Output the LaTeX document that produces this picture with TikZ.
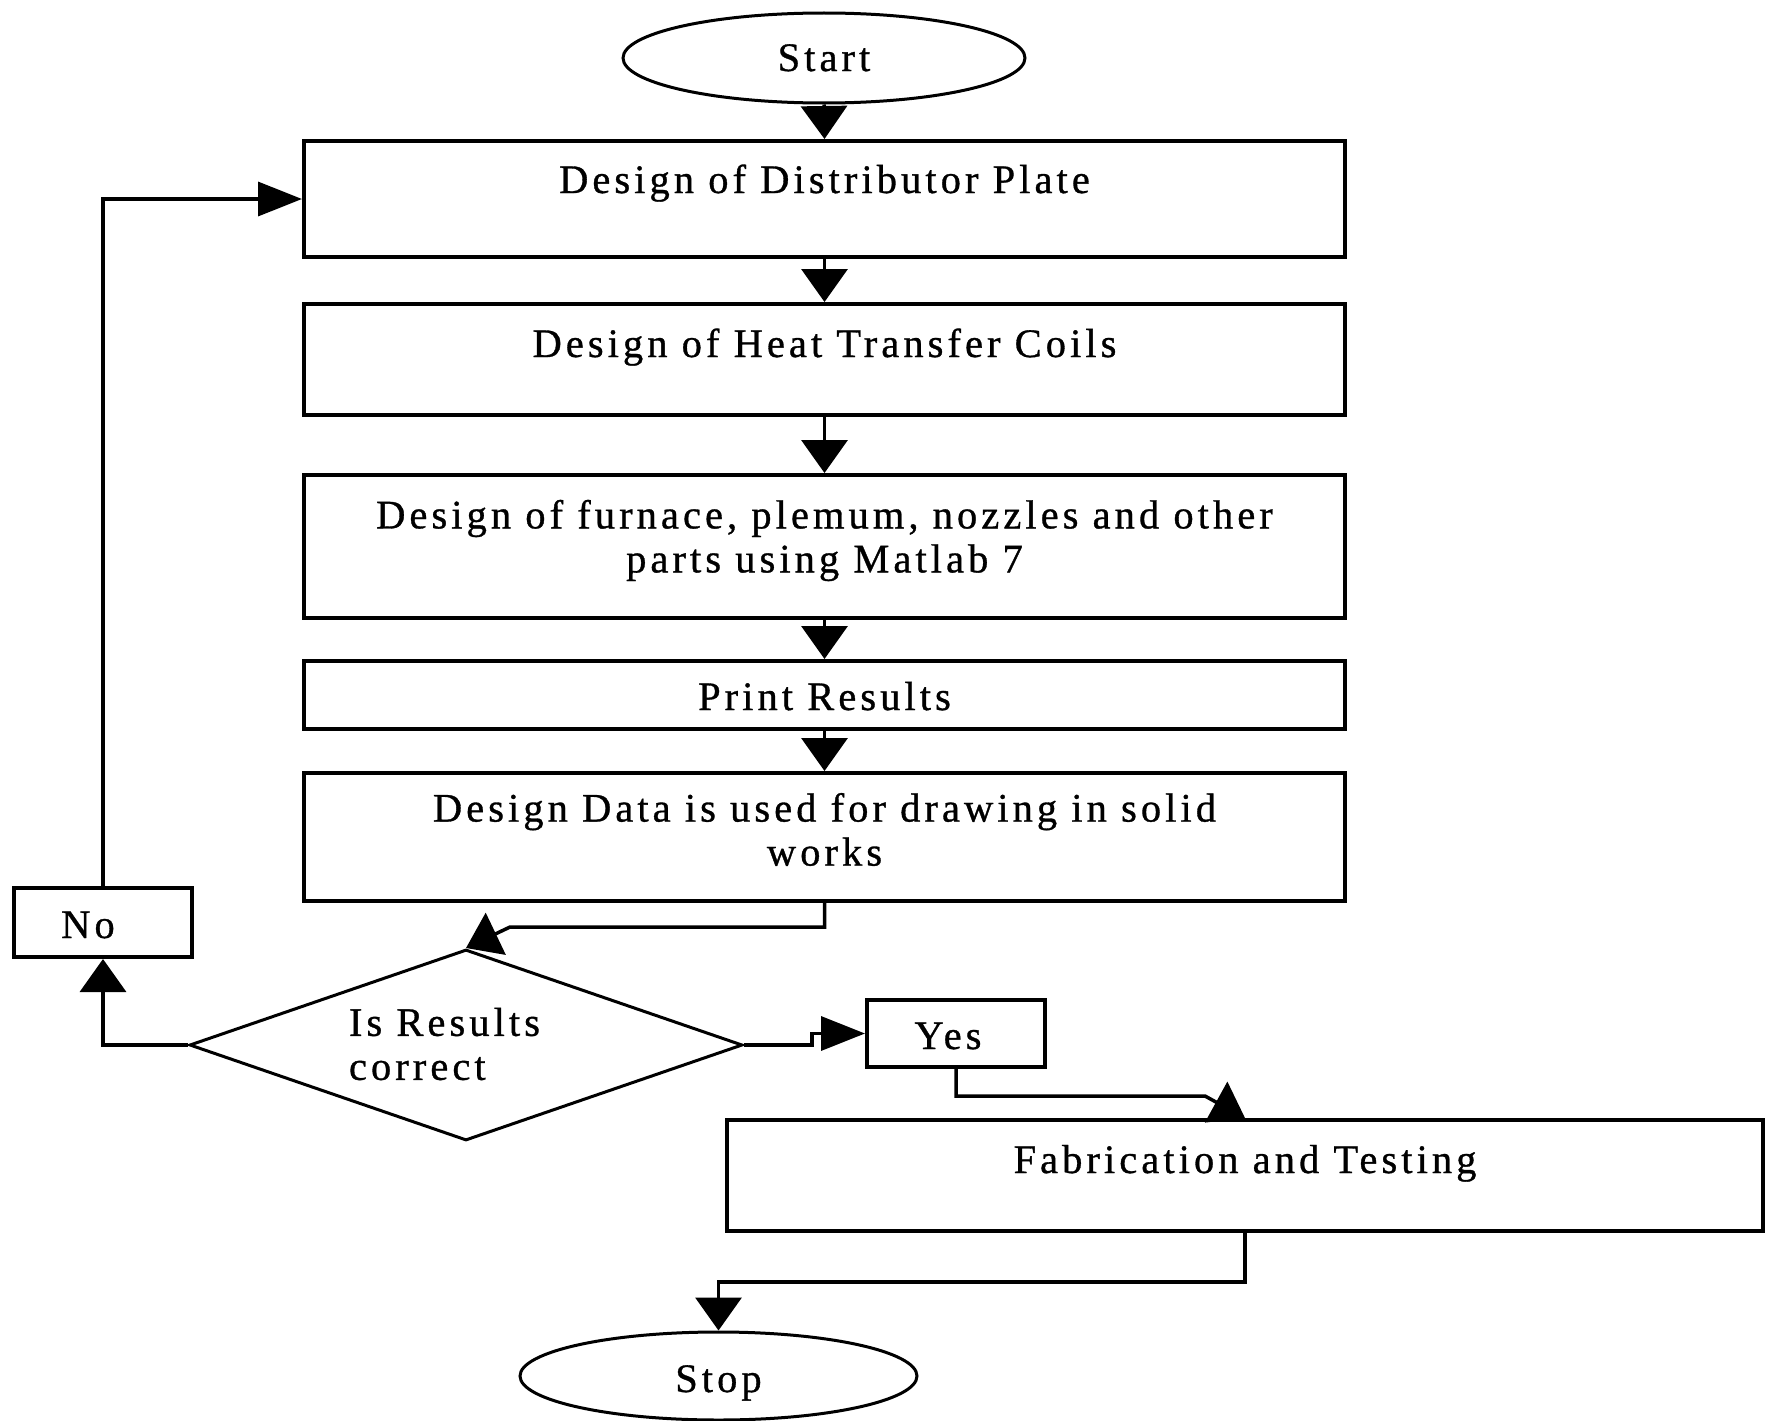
\documentclass[tikz,border=0pt]{standalone}
\usepackage{fontspec}
\setmainfont{Liberation Serif}[LetterSpace=10, FakeBold=0.8]
\usetikzlibrary{shapes.geometric,arrows.meta}
\begin{document}
\begin{tikzpicture}[x=1pt,y=-1pt,
  box/.style={draw, line width=4pt, rectangle, inner sep=0pt, minimum width=1041pt},
  oval/.style={draw, line width=3pt, ellipse, inner sep=0pt},
  lab/.style={font=\fontsize{40.5}{44}\selectfont, inner sep=0pt, text height=28pt, text depth=9pt},
  labm/.style={font=\fontsize{40.5}{44}\selectfont, inner sep=0pt, align=center},
  conn/.style={line width=3.5pt, -{Triangle[width=46pt,length=33pt]}},
  conntwo/.style={line width=3.5pt, -{Triangle[width=34pt,length=44pt]}},
]
\useasboundingbox (0,0) rectangle (1765,1421);
\fill[white] (0,0) rectangle (1765,1421);

\node[oval, minimum width=402pt, minimum height=90pt,
  label={[lab, yshift=-3.5]center:Start}] (start) at (824,58) {};
\node[box, minimum height=116pt,
  label={[lab, yshift=15.5]center:Design of Distributor Plate}] (b1) at (824.5,199) {};
\node[box, minimum height=111pt,
  label={[lab, yshift=12]center:Design of Heat Transfer Coils}] (b2) at (824.5,359.5) {};
\node[box, minimum height=143pt,
  label={[labm, yshift=6]center:Design of furnace, plemum, nozzles and other\\parts using Matlab 7}] (b3) at (824.5,546.5) {};
\node[box, minimum height=68pt,
  label={[lab, yshift=-5.5]center:Print Results}] (b4) at (824.5,695) {};
\node[box, minimum height=128pt,
  label={[labm, yshift=7.5]center:Design Data is used for drawing in solid\\works}] (b5) at (824.5,837) {};
\node[draw, line width=3pt, diamond, aspect=2.9, inner sep=0pt,
  minimum width=553pt, minimum height=191pt,
  label={[labm, align=left, xshift=-21.5, yshift=1]center:Is Results\\correct}] (d) at (466,1045) {};
\node[box, minimum width=178pt, minimum height=69pt,
  label={[lab, xshift=-15, yshift=-6]center:No}] (no) at (103,922.5) {};
\node[box, minimum width=178pt, minimum height=67pt,
  label={[lab, xshift=-8, yshift=-6]center:Yes}] (yes) at (956,1033.5) {};
\node[box, minimum width=1036pt, minimum height=111pt,
  label={[lab, yshift=12]center:Fabrication and Testing}] (fab) at (1245,1175.5) {};
\node[oval, minimum width=397pt, minimum height=88pt,
  label={[lab, yshift=-6.5]center:Stop}] (stop) at (718.5,1376) {};

\coordinate (k1) at (510,927);
\coordinate (k2) at (812,1033.5);
\coordinate (k3) at (1205,1096);
\coordinate (k4) at (1245,1282);

\draw[conn] (start.south) -- (b1.north);
\draw[conn] (b1.south) -- (b2.north);
\draw[conn] (b2.south) -- (b3.north);
\draw[conn] (b3.south) -- (b4.north);
\draw[conn] (b4.south) -- (b5.north);
\draw[conn] (b5.south) |- (k1) -- (d.north);
\draw[conn] (d.west) -| (no.south);
\draw[conntwo] (no.north) |- (b1.west);
\draw[conntwo] (d.east) -| (k2) -- (yes.west);
\draw[conn] (yes.south) |- (k3) -- (fab.north);
\draw[conn] (fab.south) -- (k4) -| (stop.north);
\end{tikzpicture}
\end{document}
